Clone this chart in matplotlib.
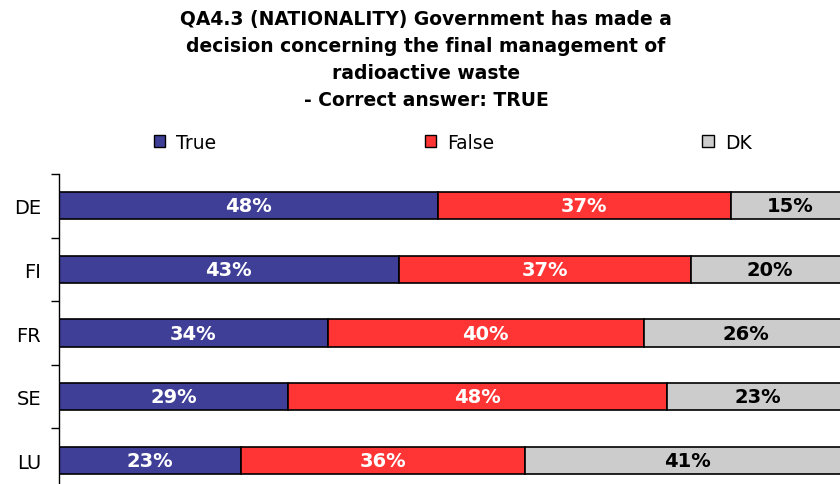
import numpy as np
import matplotlib.pyplot as plt
from matplotlib.patches import Patch

countries = ['DE', 'FI', 'FR', 'SE', 'LU']
true_vals = [48, 43, 34, 29, 23]
false_vals = [37, 37, 40, 48, 36]
dk_vals = [15, 20, 26, 23, 41]

series = [('True', true_vals, '#3f3f98', 'white'),
          ('False', false_vals, '#ff3535', 'white'),
          ('DK', dk_vals, '#cccccc', 'black')]

fig = plt.figure(figsize=(8.4, 4.85), dpi=100)
# the chart in the reference is cut at the right and bottom edges
ax = fig.add_axes([59 / 840, -8 / 485, 790 / 840, 318 / 485])

y = np.arange(len(countries))
left = np.zeros(len(countries))
for name, vals, color, tcolor in series:
    ax.barh(y, vals, left=left, height=0.43, color=color,
            edgecolor='black', linewidth=1.2, label=name)
    for yi, l, v in zip(y, left, vals):
        ax.text(l + v / 2, yi, f'{v}%', ha='center', va='center',
                color=tcolor, fontsize=14, fontweight='bold')
    left = left + np.array(vals)

ax.set_xlim(0, 100)
ax.set_ylim(len(countries) - 0.5, -0.5)
ax.set_yticks(y)
ax.set_yticklabels(countries, fontsize=14)
ax.set_yticks(np.arange(len(countries) + 1) - 0.5, minor=True)
ax.tick_params(axis='y', which='major', length=0, pad=13)
ax.tick_params(axis='y', which='minor', length=6, width=1)
ax.set_xticks([])
for s in ['top', 'right', 'bottom']:
    ax.spines[s].set_visible(False)
ax.spines['left'].set_linewidth(1)

fig.text(0.507, 0.979,
         'QA4.3 (NATIONALITY) Government has made a\n'
         'decision concerning the final management of\n'
         'radioactive waste\n'
         '- Correct answer: TRUE',
         ha='center', va='top', fontsize=13.5, fontweight='bold',
         linespacing=1.54)

handles = [Patch(facecolor=c, edgecolor='black', label=n) for n, _, c, _ in series]
fig.legend(handles=handles, loc='center', bbox_to_anchor=(0.539, 0.705), ncol=3,
           frameon=False, fontsize=13.5, handlelength=0.6, handleheight=0.6,
           handletextpad=0.6, columnspacing=11.1)

fig.savefig('out.png', dpi=100)
